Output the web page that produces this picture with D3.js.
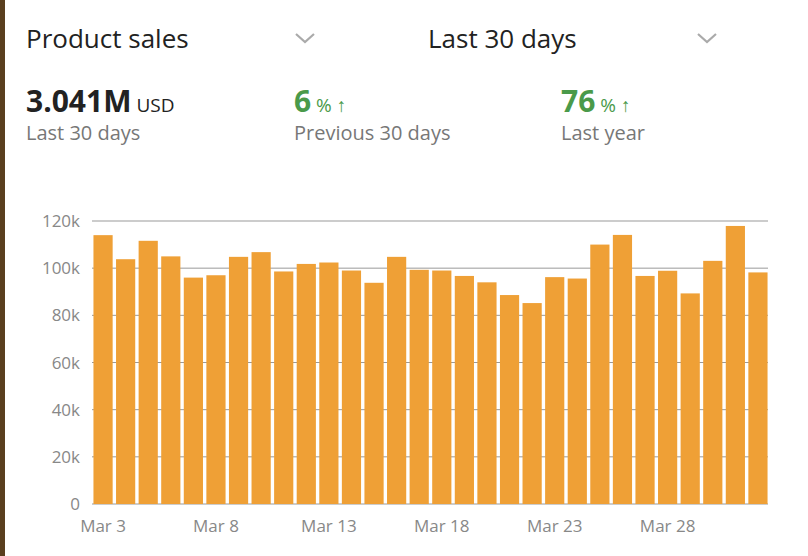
<!DOCTYPE html><html><head><meta charset="utf-8"><script src="https://cdn.jsdelivr.net/npm/d3@7"></script>
<style>body{margin:0;background:#fff;font-family:"Open Sans","Noto Sans",sans-serif}</style></head><body><svg id="c" width="808" height="556"></svg>
<script>
const days=d3.range(3,33).map(d=>d<=31?"Mar "+d:"Apr "+(d-31));
const values=[114,103.8,111.6,105,96,97,104.8,106.8,98.6,101.8,102.4,99,93.8,104.8,99.3,99,96.7,94,88.6,85.2,96.2,95.6,110,114.1,96.7,98.9,89.3,103.1,117.9,98.2].map(v=>v*1000);
const yTicks=[0,20000,40000,60000,80000,100000,120000];
const xTickLabels=["Mar 3","Mar 8","Mar 13","Mar 18","Mar 23","Mar 28"];
const svg=d3.select("#c");
svg.append("rect").attr("x",0).attr("y",0).attr("width",5).attr("height",556).attr("fill","#5a3f1f");
const t=(x,y,s,o={})=>svg.append("text").attr("x",x).attr("y",y).text(s).attr("font-size",o.fs||22).attr("fill",o.c||"#222").attr("font-weight",o.w||400);
t(26,48,"Product sales",{fs:26});t(428,48,"Last 30 days",{fs:26});
[305,707].forEach(x=>svg.append("path").attr("d",`M${x-9},${34} L${x},${42} L${x+9},${34}`).attr("fill","none").attr("stroke","#aaa").attr("stroke-width",2.2));
const big=svg.append("text").attr("x",26).attr("y",112).attr("fill","#222");
big.append("tspan").text("3.041M").attr("font-size",30).attr("font-weight",700);
big.append("tspan").text(" USD").attr("font-size",19);
t(26,140,"Last 30 days",{fs:20,c:"#777"});
[[294,"6","Previous 30 days"],[561,"76","Last year"]].forEach(([x,n,l])=>{
 const g=svg.append("text").attr("x",x).attr("y",112).attr("fill","#4a9a4a");
 g.append("tspan").text(n).attr("font-size",30).attr("font-weight",700);
 g.append("tspan").text(" % ↑").attr("font-size",19);
 t(x,140,l,{fs:20,c:"#777"});
});
const x=d3.scaleBand().domain(days).range([93,768]).paddingInner(0.15).paddingOuter(0.02);
const y=d3.scaleLinear().domain([0,120000]).range([504,221]);
const ga=svg.append("g");
yTicks.forEach(v=>{
 ga.append("line").attr("x1",92).attr("x2",768).attr("y1",y(v)).attr("y2",y(v)).attr("stroke","#999").attr("stroke-width",1);
 ga.append("text").attr("x",80).attr("y",y(v)+6).attr("text-anchor","end").attr("font-size",17).attr("fill","#888").text(v?v/1000+"k":"0");
});
svg.append("g").selectAll("rect").data(values).join("rect")
 .attr("x",(d,i)=>x(days[i])).attr("width",x.bandwidth()).attr("y",d=>y(d)).attr("height",d=>y(0)-y(d)).attr("fill","#EFA036");
xTickLabels.forEach(l=>svg.append("text").attr("x",x(l)+x.bandwidth()/2).attr("y",532).attr("text-anchor","middle").attr("font-size",17).attr("fill","#888").text(l));
</script></body></html>
